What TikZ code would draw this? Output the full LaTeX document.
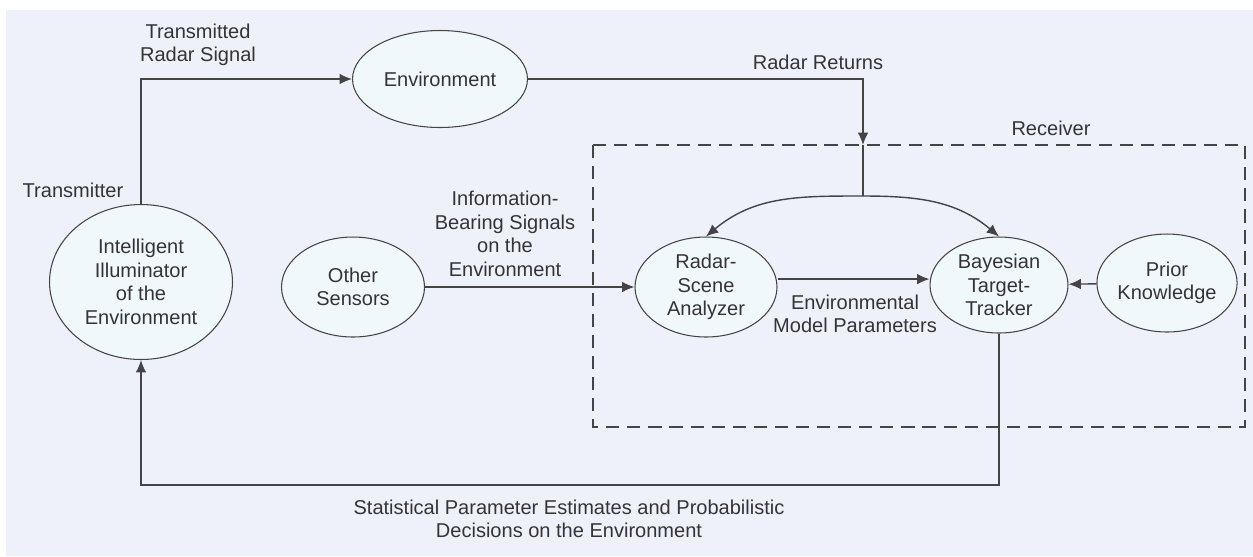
\documentclass[tikz,border=0pt]{standalone}
\usepackage{fontspec}
\setmainfont{Liberation Sans}
\usetikzlibrary{shapes,arrows.meta}

\definecolor{panelbg}{RGB}{239,241,250}
\definecolor{ellfill}{RGB}{241,248,252}
\definecolor{inkgray}{RGB}{68,68,72}
\definecolor{textgray}{RGB}{52,52,56}

\begin{document}
\begin{tikzpicture}[x=0.02cm, y=-0.02cm, semithick, font=\fontsize{11.4}{13.4}\selectfont, text=textgray]
  \tikzstyle{unit} = [ellipse, draw=inkgray, fill=ellfill, align=center, inner sep=0pt]
  \tikzstyle{lbl} = [align=center, inner sep=0pt]
  \tikzstyle{line} = [draw=inkgray, line width=0.8pt, -{Latex[length=7pt, width=6pt]}]
  \tikzstyle{wire} = [draw=inkgray, line width=0.8pt]
  \tikzstyle{recvbox} = [draw=inkgray, line width=0.8pt, dash pattern=on 7.5pt off 4.5pt]

  % Background
  \useasboundingbox (0,0) rectangle (1253,556);
  \fill[white] (0,0) rectangle (1253,556);
  \fill[panelbg] (6,10) rectangle (1253,556);

  % Receiver box
  \draw[recvbox] (593,145) rectangle (1245,427);

  % Place nodes
  \node [unit, minimum width=3.5cm, minimum height=1.94cm] (env) at (440,79) {Environment};
  \node [unit, minimum width=3.66cm, minimum height=3.1cm] (illum) at (141,282)
    {Intelligent\\Illuminator\\of the\\Environment};
  \node [unit, minimum width=2.86cm, minimum height=2cm] (other) at (353,287) {Other\\Sensors};
  \node [unit, minimum width=2.84cm, minimum height=2cm] (rsa) at (706,287)
    {Radar-\\Scene\\Analyzer};
  \node [unit, minimum width=2.76cm, minimum height=1.92cm] (bayes) at (999,285)
    {Bayesian\\Target-\\Tracker};
  \node [unit, minimum width=2.7cm, minimum height=1.96cm] (prior) at (1167,283)
    {Prior\\Knowledge};

  \coordinate (recvtop) at (863,145);
  \coordinate (split) at (863,196);
  \coordinate (loop) at (0,485);

  % Labels
  \node [lbl] (lbltrans) at (198,45) {Transmitted\\Radar Signal};
  \node [lbl] (lbltx) at (73,190) {Transmitter};
  \node [lbl] (lblret) at (818,62) {Radar Returns};
  \node [lbl] (lblrecv) at (1051,128) {Receiver};
  \node [lbl] (lblinfo) at (505,234) {Information-\\Bearing Signals\\on the\\Environment};
  \node [lbl] (lblemp) at (855,314) {Environmental\\Model Parameters};
  \node [lbl] (lblstat) at (569,519)
    {Statistical Parameter Estimates and Probabilistic\\Decisions on the Environment};

  % Draw edges
  \path [line] (illum.north) |- (env.west);
  \path [line] (env.east) -| (recvtop);
  \path [wire] (recvtop) -- (split);
  \path [line] (split) to[out=180, in=40] (rsa.north);
  \path [line] (split) to[out=0, in=140] (bayes.north);
  \path [line] (other) -- (rsa);
  \path [line] ([yshift=4.5pt]rsa.east) -- ([yshift=4.5pt]rsa.east -| bayes.west);
  \path [line] (prior) -- (bayes);
  \path [line] (bayes.south) -- (bayes.south |- loop) -| (illum.south);

\end{tikzpicture}
\end{document}
